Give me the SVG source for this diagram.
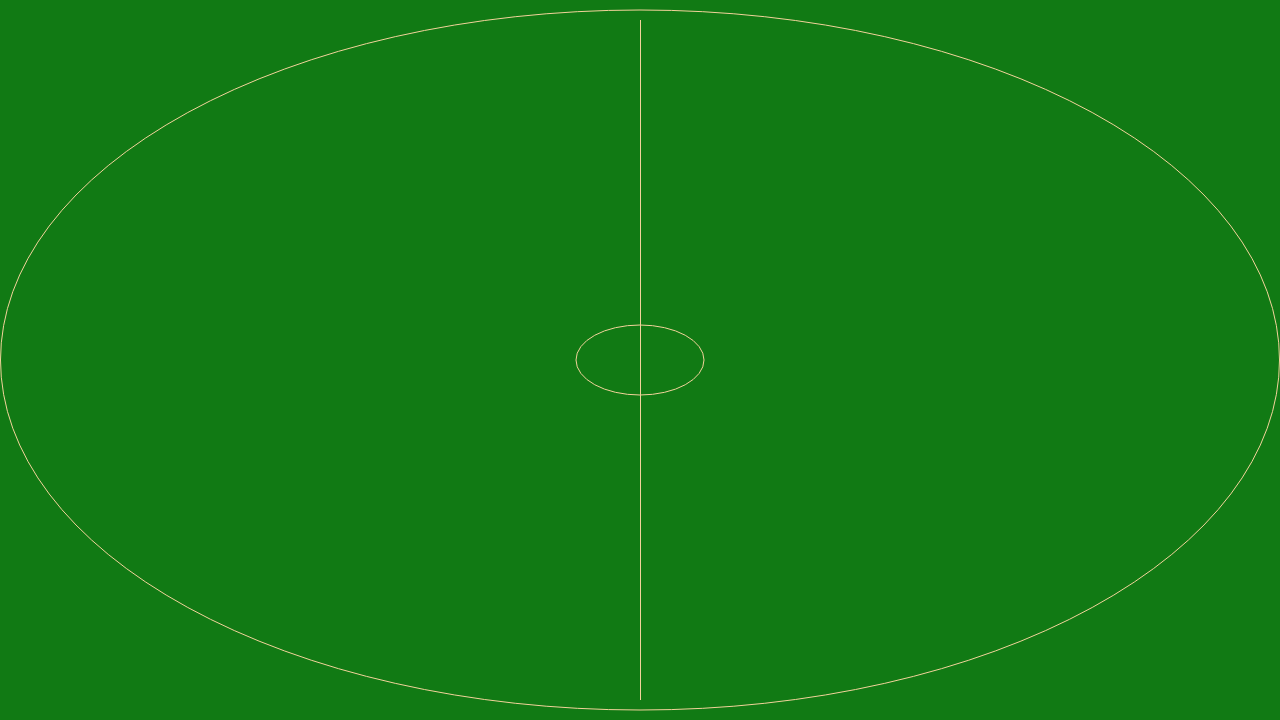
<svg xmlns="http://www.w3.org/2000/svg" width="1280" height="720" viewBox="0 0 1280 720">
<style>.m{fill:none;stroke:#f2d39a;stroke-width:1}</style>
<rect width="1280" height="720" fill="#117a14"/>
<ellipse class="m" cx="640" cy="360" rx="639.5" ry="350"/>
<line class="m" x1="640.5" y1="20" x2="640.5" y2="700"/>
<ellipse class="m" cx="640" cy="360" rx="64" ry="35"/>
</svg>
